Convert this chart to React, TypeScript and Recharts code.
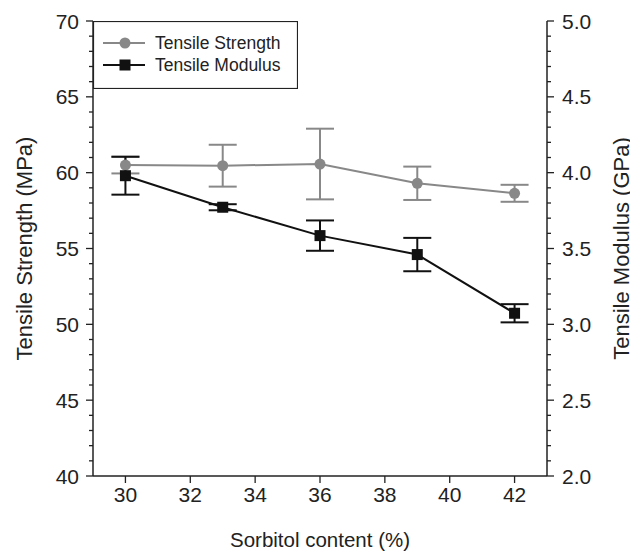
import React from "react";
import {
  ComposedChart,
  Line,
  XAxis,
  YAxis,
  ErrorBar,
  Legend,
  Label,
} from "recharts";

const sorbitol = [30, 33, 36, 39, 42];
const strength = [60.5, 60.46, 60.57, 59.3, 58.64];
const strengthErr = [0.55, 1.38, 2.33, 1.1, 0.56];
const modulus = [3.98, 3.772, 3.585, 3.46, 3.073];
const modulusErr = [0.125, 0.02, 0.1, 0.11, 0.06];

const xTicks = [30, 32, 34, 36, 38, 40, 42];
const leftTicks = [
  40, 41, 42, 43, 44, 45, 46, 47, 48, 49, 50, 51, 52, 53, 54, 55, 56, 57, 58,
  59, 60, 61, 62, 63, 64, 65, 66, 67, 68, 69, 70,
];
const leftLabels = [40, 45, 50, 55, 60, 65, 70];
const rightTicks = [
  2.0, 2.1, 2.2, 2.3, 2.4, 2.5, 2.6, 2.7, 2.8, 2.9, 3.0, 3.1, 3.2, 3.3, 3.4,
  3.5, 3.6, 3.7, 3.8, 3.9, 4.0, 4.1, 4.2, 4.3, 4.4, 4.5, 4.6, 4.7, 4.8, 4.9,
  5.0,
];
const rightLabels = ["2.0", "2.5", "3.0", "3.5", "4.0", "4.5", "5.0"];
const seriesOrder = ["strength", "modulus"];

const data = sorbitol.map((s, i) => ({
  x: s,
  strength: strength[i],
  strengthErr: strengthErr[i],
  modulus: modulus[i],
  modulusErr: modulusErr[i],
}));

const FONT = "'Liberation Sans', Arial, sans-serif";
const TXT = "#222";
const GRAY = "#888888";
const BLACK = "#111";

const LeftTick = (props: any) => {
  const { x, y, payload } = props;
  const v = payload.value;
  const major = leftLabels.includes(v);
  return (
    <g>
      <line x1={x} x2={x - (major ? 7 : 4)} y1={y} y2={y} stroke={TXT} strokeWidth={1.3} />
      {major && (
        <text x={x - 14} y={y} dy="0.36em" textAnchor="end" fontSize={21} fontFamily={FONT} fill={TXT}>
          {v}
        </text>
      )}
    </g>
  );
};

const RightTick = (props: any) => {
  const { x, y, payload } = props;
  const label = Number(payload.value).toFixed(1);
  const major = rightLabels.includes(label);
  return (
    <g>
      <line x1={x} x2={x + (major ? 7 : 4)} y1={y} y2={y} stroke={TXT} strokeWidth={1.3} />
      {major && (
        <text x={x + 15} y={y} dy="0.36em" textAnchor="start" fontSize={21} fontFamily={FONT} fill={TXT}>
          {label}
        </text>
      )}
    </g>
  );
};

const LegendContent = (props: any) => {
  const payload = [...(props.payload || [])].sort(
    (a: any, b: any) => seriesOrder.indexOf(a.dataKey) - seriesOrder.indexOf(b.dataKey)
  );
  return (
    <svg width={205} height={68} style={{ display: "block" }}>
      <rect x={0.5} y={0.5} width={204} height={67} fill="#fff" stroke={TXT} strokeWidth={1.2} />
      {payload.map((p: any, i: number) => {
        const cy = 22 + i * 22;
        return (
          <g key={i}>
            <line x1={10} x2={52} y1={cy} y2={cy} stroke={p.color} strokeWidth={2} />
            {p.dataKey === "strength" ? (
              <circle cx={32} cy={cy} r={5.5} fill={p.color} />
            ) : (
              <rect x={26.5} y={cy - 5.5} width={11} height={11} fill={p.color} />
            )}
            <text x={62} y={cy} dy="0.36em" fontSize={17.5} fontFamily={FONT} fill={TXT}>
              {p.value}
            </text>
          </g>
        );
      })}
    </svg>
  );
};

const SquareDot = (props: any) => {
  const { cx, cy } = props;
  if (cx == null || cy == null) return null;
  return <rect x={cx - 5.5} y={cy - 5.5} width={11} height={11} fill={BLACK} />;
};

export default function App() {
  return (
    <div style={{ width: 630, height: 550, background: "#fff", position: "relative" }}>
      <ComposedChart
        width={630}
        height={550}
        data={data}
        margin={{ top: 13, right: 0, bottom: 0, left: 0 }}
      >
        <XAxis
          xAxisId="top"
          orientation="top"
          dataKey="x"
          type="number"
          domain={[29, 43]}
          ticks={xTicks}
          tick={false}
          tickLine={false}
          height={0}
          axisLine={{ stroke: TXT, strokeWidth: 1.5 }}
        />
        <XAxis
          dataKey="x"
          type="number"
          domain={[29, 43]}
          ticks={xTicks}
          interval={0}
          height={82}
          tickSize={7}
          tickMargin={4}
          axisLine={{ stroke: TXT, strokeWidth: 1.5 }}
          tickLine={{ stroke: TXT, strokeWidth: 1.3 }}
          tick={{ fontSize: 21, fontFamily: FONT, fill: TXT }}
        >
          <Label
            value="Sorbitol content (%)"
            position="insideBottom"
            offset={11}
            style={{ fontSize: 20.5, fontFamily: FONT, fill: TXT }}
          />
        </XAxis>
        <YAxis
          yAxisId="left"
          orientation="left"
          type="number"
          domain={[40, 70]}
          ticks={leftTicks}
          interval={0}
          width={85}
          tickSize={0}
          tickMargin={0}
          tickLine={false}
          axisLine={{ stroke: TXT, strokeWidth: 1.5 }}
          tick={<LeftTick />}
        >
          <Label
            content={(p: any) => {
              const vb = p.viewBox;
              const cx = 16;
              const cy = vb.y + vb.height / 2;
              return (
                <text
                  x={cx}
                  y={cy}
                  transform={`rotate(-90 ${cx} ${cy})`}
                  textAnchor="middle"
                  dy="0.36em"
                  fontSize={22}
                  fontFamily={FONT}
                  fill={TXT}
                >
                  Tensile Strength (MPa)
                </text>
              );
            }}
          />
        </YAxis>
        <YAxis
          yAxisId="right"
          orientation="right"
          type="number"
          domain={[2, 5]}
          ticks={rightTicks}
          interval={0}
          width={91}
          tickSize={0}
          tickMargin={0}
          tickLine={false}
          axisLine={{ stroke: TXT, strokeWidth: 1.5 }}
          tick={<RightTick />}
        >
          <Label
            content={(p: any) => {
              const vb = p.viewBox;
              const cx = vb.x + 74;
              const cy = vb.y + vb.height / 2;
              return (
                <text
                  x={cx}
                  y={cy}
                  transform={`rotate(-90 ${cx} ${cy})`}
                  textAnchor="middle"
                  dy="0.36em"
                  fontSize={22}
                  fontFamily={FONT}
                  fill={TXT}
                >
                  Tensile Modulus (GPa)
                </text>
              );
            }}
          />
        </YAxis>
        <Legend
          layout="horizontal"
          verticalAlign="middle"
          align="center"
          content={<LegendContent />}
          wrapperStyle={{ position: "absolute", left: 85, top: 13, width: 205, height: 68 }}
        />
        <Line
          yAxisId="left"
          dataKey="strength"
          name="Tensile Strength"
          stroke={GRAY}
          strokeWidth={2}
          dot={{ r: 5.5, fill: GRAY, stroke: GRAY, strokeWidth: 0 }}
          activeDot={false}
          isAnimationActive={false}
        >
          <ErrorBar dataKey="strengthErr" width={14} stroke={GRAY} strokeWidth={2} direction="y" />
        </Line>
        <Line
          yAxisId="right"
          dataKey="modulus"
          name="Tensile Modulus"
          stroke={BLACK}
          strokeWidth={2}
          dot={<SquareDot />}
          activeDot={false}
          isAnimationActive={false}
        >
          <ErrorBar dataKey="modulusErr" width={14} stroke={BLACK} strokeWidth={2} direction="y" />
        </Line>
      </ComposedChart>
    </div>
  );
}
